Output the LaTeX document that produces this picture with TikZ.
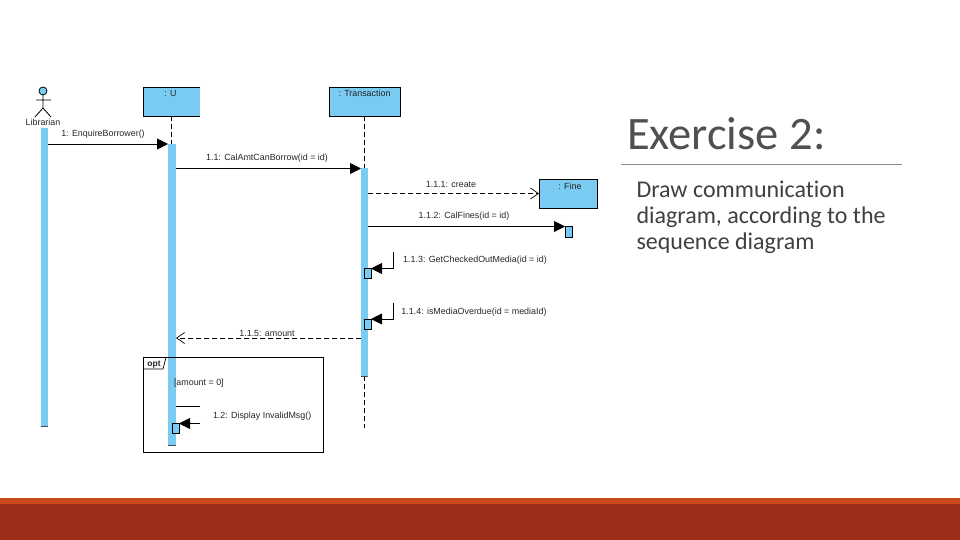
\documentclass[tikz,border=0pt]{standalone}
\usepackage{fontspec}
\setmainfont{Liberation Sans}
\newfontfamily\slidefont[Ligatures=NoCommon]{Carlito}
\usetikzlibrary{arrows.meta}
\definecolor{umlblue}{HTML}{7ACBF2}
\definecolor{slidetext}{HTML}{404040}
\definecolor{titletext}{HTML}{505050}
\definecolor{bandlight}{HTML}{C9491C}
\definecolor{banddark}{HTML}{9C2D1B}
\tikzset{
  every node/.style={inner sep=0pt,outer sep=0pt},
  umlbox/.style={draw=black,fill=umlblue,line width=0.9pt,anchor=north west},
  umlbar/.style={fill=umlblue,anchor=north west},
  umlsmall/.style={draw=black,fill=umlblue,line width=0.9pt,anchor=north west},
  lab/.style={font=\fontsize{8.9}{10}\selectfont,text=black!85},
  bodytext/.style={anchor=base west,text=slidetext,font=\slidefont\fontsize{24}{26}\selectfont},
  call/.style={line width=0.9pt,-{Triangle[length=11pt,width=11pt]}},
  ret/.style={line width=0.9pt,dash pattern=on 5pt off 3pt,-{Straight Barb[length=8pt,width=11pt,line width=0.7pt]}},
  life/.style={line width=0.9pt,dash pattern=on 5pt off 3pt},
  plain/.style={line width=0.9pt},
}
\begin{document}
\begin{tikzpicture}[x=1pt,y=-1pt]
\useasboundingbox (0,0) rectangle (960,540);
% footer band
\fill[bandlight] (0,498) rectangle (960,504);
\fill[banddark] (0,504) rectangle (960,540);
% right hand text
\node[anchor=base west,text=titletext,font=\slidefont\fontsize{46.5}{50}\selectfont] (title) at (627,150) {Exercise 2:};
\coordinate (ruleL) at (621,164);
\coordinate (ruleR) at (902,164);
\draw[color=black!45,line width=0.9pt] (ruleL) -- (ruleR);
\node[bodytext] (t1) at (636.5,197) {Draw communication};
\node[bodytext] (t2) at (636.5,223) {diagram, according to the};
\node[bodytext] (t3) at (636.5,249) {sequence diagram};
% actor
\draw[fill=umlblue,line width=0.8pt] (43,91) circle (4);
\coordinate (neck) at (43,95);
\coordinate (hip) at (43,108);
\coordinate (armL) at (36,100);
\coordinate (armR) at (51,100);
\coordinate (legL) at (35,117);
\coordinate (legR) at (51,117);
\draw[line width=0.8pt] (neck) -- (hip) (armL) -- (armR) (legL) -- (hip) -- (legR);
\node[lab] (librarian) at (43,122.5) {Librarian};
% lifeline heads
\fill[umlblue] (143,87) rectangle (200,116);
\draw[line width=0.9pt] (200,87) -- (143,87) -- (143,116) -- (200,116);
\node[lab] (ulabel) at (170.5,93) {: U};
\node[umlbox,minimum width=71pt,minimum height=29pt] (tx) at (329,87.5) {};
\node[lab] (txlabel) at (364.5,93.5) {: Transaction};
\node[umlbox,minimum width=58pt,minimum height=29pt] (fine) at (539,179) {};
\node[lab] (finelabel) at (570,186) {: Fine};
% lifelines
\coordinate (uhead) at (171,116);
\coordinate (uact) at (171,144);
\draw[life] (uhead) -- (uact);
\coordinate (txact) at (tx.south |- 0,168);
\draw[life] (tx.south) -- (txact);
\coordinate (txend) at (tx.south |- 0,428);
\draw[life] (tx.south |- 0,376) -- (txend);
% activation bars
\node[umlbar,minimum width=7pt,minimum height=298pt] (libbar) at (40.5,128) {};
\node[umlbar,minimum width=8pt,minimum height=301pt] (ubar) at (168,144) {};
\node[umlbar,minimum width=7pt,minimum height=208pt] (txbar) at (361,168) {};
\draw[line width=0.4pt,black!70] (libbar.south west) -- (libbar.south east) (ubar.south west) -- (ubar.south east) (txbar.south west) -- (txbar.south east);
\node[umlsmall,minimum width=7pt,minimum height=11pt] (finebar) at (565,226.5) {};
\node[umlsmall,minimum width=7pt,minimum height=10pt] (a113) at (364,268.5) {};
\node[umlsmall,minimum width=7pt,minimum height=10pt] (a114) at (364,319) {};
% messages
\draw[call] (libbar.east |- 0,144) -- (ubar.west |- 0,144);
\node[lab] (m1) at (103,134) {1: EnquireBorrower()};
\draw[call] (ubar.east |- 0,168.5) -- (txbar.west |- 0,168.5);
\node[lab] (m11) at (267,158) {1.1: CalAmtCanBorrow(id = id)};
\draw[ret] (txbar.east |- fine.west) -- (fine.west);
\node[lab] (m111) at (451,184.5) {1.1.1: create};
\draw[call] (txbar.east |- 0,226.5) -- (finebar.north west);
\node[lab] (m112) at (464,216) {1.1.2: CalFines(id = id)};
\coordinate (s113a) at (393,252);
\coordinate (s113b) at (393,268.5);
\draw[call] (s113a) -- (s113b) -- (a113.north east);
\node[lab] (m113) at (475,260.5) {1.1.3: GetCheckedOutMedia(id = id)};
\coordinate (s114a) at (393,303);
\coordinate (s114b) at (393,319);
\draw[call] (s114a) -- (s114b) -- (a114.north east);
\node[lab] (m114) at (474,312.5) {1.1.4: isMediaOverdue(id = mediaId)};
\draw[ret] (txbar.west |- 0,338) -- (ubar.east |- 0,338);
\node[lab] (m115) at (267,333) {1.1.5: amount};
% opt fragment
\node[draw=black,line width=0.9pt,anchor=north west,minimum width=180pt,minimum height=95pt] (opt) at (143.5,357.5) {};
\coordinate (tagA) at (166,357.5);
\coordinate (tagB) at (163,369);
\coordinate (tagC) at (143.5,369);
\draw[line width=0.7pt,fill=white] (opt.north west) -- (tagA) -- (tagB) -- (tagC) -- cycle;
\node[lab,font=\bfseries\fontsize{8.5}{10}\selectfont] (optlabel) at (154,364.5) {opt};
\node[lab,anchor=west] (guard) at (174,383) {[amount = 0]};
\node[umlsmall,minimum width=7pt,minimum height=10pt] (a12) at (172,423.5) {};
\coordinate (s12a) at (200,406);
\coordinate (s12b) at (200,423.5);
\draw[plain] (ubar.east |- s12a) -- (s12a);
\draw[call] (s12b) -- (a12.north east);
\node[lab,anchor=west] (m12) at (213,416.5) {1.2: Display InvalidMsg()};
\end{tikzpicture}
\end{document}
